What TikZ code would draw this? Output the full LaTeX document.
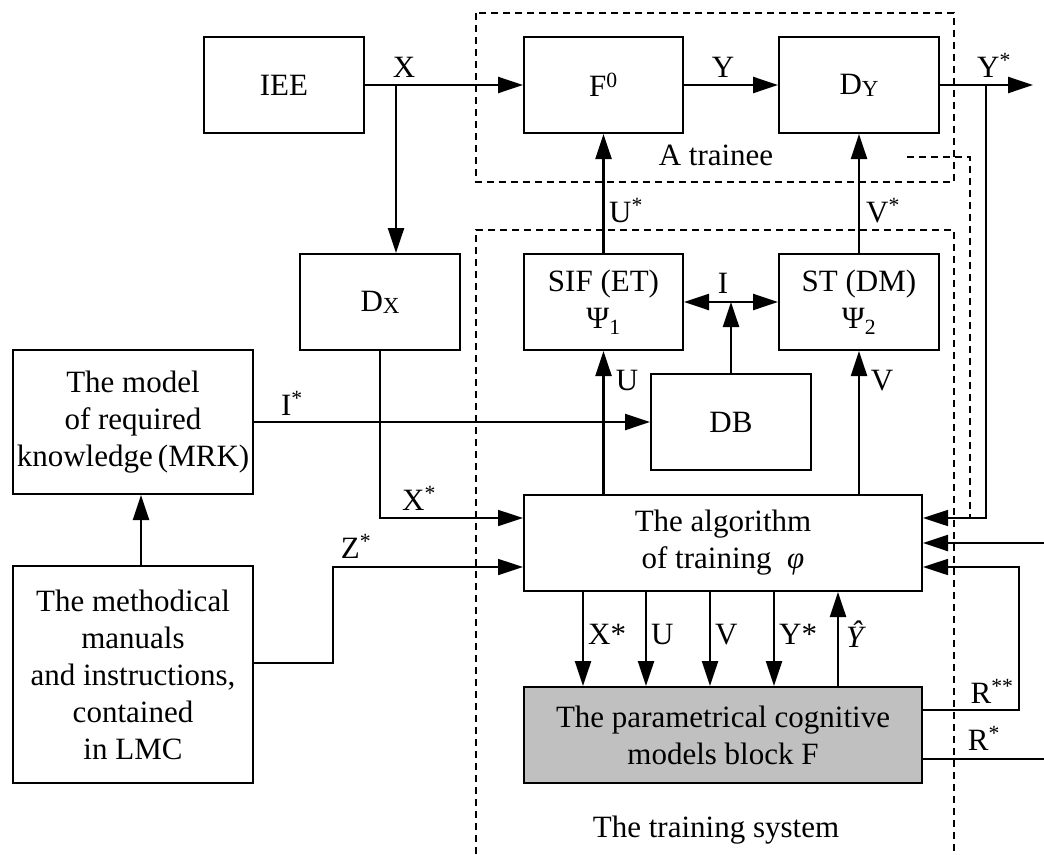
\documentclass[tikz,border=0pt]{standalone}
\usepackage{fontspec}
\setmainfont{Liberation Serif}
\usetikzlibrary{arrows.meta}
\definecolor{blockgray}{HTML}{C0C0C0}
\newcommand\lowidx[1]{\raisebox{-2pt}{\fontsize{23}{23}\selectfont #1}}

\begin{document}
\begin{tikzpicture}[x=1pt,y=-1pt,
  every node/.style={font=\fontsize{31}{37}\selectfont},
  >={Triangle[length=25pt,width=16pt]},
  box/.style={draw, line width=2pt, minimum width=#1, minimum height=96pt, inner sep=0pt, align=center},
  box/.default=160pt,
  arr/.style={line width=2.4pt, ->},
  thinarr/.style={line width=1.7pt, ->},
  thinline/.style={line width=1.7pt},
  frame/.style={line width=1.5pt, dash pattern=on 7pt off 5pt},
  lbl/.style={inner sep=0pt, anchor=base}]
\useasboundingbox (0,0) rectangle (1044,854);
\node[box] (iee) at (284,85) {IEE};
\node[box=159pt] (f0) at (603.5,85) {F\textsuperscript{0}};
\node[box] (dy) at (859,85) {D\lowidx{Y}};
\node[box] (dx) at (380,302) {D\lowidx{X}};
\node[box=159pt] (sif) at (603.5,302) {SIF (ET)\\Ψ\textsubscript{1}};
\node[box] (st) at (859,302) {ST (DM)\\Ψ\textsubscript{2}};
\node[box] (db) at (731,422) {DB};
\node[box=240pt, minimum height=144pt] (mrk) at (133,422) {The model\\of required\\knowledge\,(MRK)};
\node[box=240pt, minimum height=217pt] (mmi) at (133,674.5) {The methodical\\manuals\\and instructions,\\contained\\in LMC};
\node[box=398pt] (alg) at (723,543) {The algorithm\\of training \ {\itshape φ}};
\node[box=398pt, fill=blockgray] (fb) at (723,735) {The parametrical cognitive\\models block F};

\coordinate (xs) at (396,85);
\coordinate (ys) at (986,85);
\coordinate (yout) at (1033,85);
\coordinate (fin) at (1044,543);
\coordinate (rout) at (1044,759);

\draw[frame] (476,13) rectangle (954,182);
\draw[frame] (476,854) -- (476,230) -- (954,230) -- (954,854);
\draw[frame] (907,157) -| (970,518);

\draw[arr] (iee) -- (f0);
\draw[arr] (xs) -- (xs |- dx.north);
\draw[arr] (f0) -- (dy);
\draw[arr] (dy) -- (yout);
\draw[thinarr] (ys) |- ([yshift=25pt]alg.east);
\draw[arr] (sif) -- (f0);
\draw[arr] (st) -- (dy);
\draw[arr, <->] (sif) -- (st);
\draw[arr] (db) -- (db |- sif);
\draw[arr] (alg.north -| sif) -- (sif);
\draw[arr] (alg.north -| st) -- (st);
\draw[arr] (mrk) -- (db);
\draw[thinarr] (dx) |- ([yshift=25pt]alg.west);
\draw[arr] ([xshift=8pt]mmi.north) -- ([xshift=8pt]mmi.north |- mrk.south);
\draw[thinarr] ([yshift=11.5pt]mmi.east) -- ++(79,0) |- ([yshift=-24pt]alg.west);
\foreach \off/\lab in {60/X*,123/U,187/V,251/Y*}
  \draw[arr] ([xshift=\off pt]alg.south west) -- ([xshift=\off pt]fb.north west)
    node[pos=0.45, anchor=west, inner sep=0pt, xshift=4pt] {\lab};
\draw[arr] ([xshift=315pt]fb.north west) -- ([xshift=315pt]alg.south west)
  node[pos=0.55, anchor=west, inner sep=0pt, xshift=7pt] {\itshape Ŷ};
\draw[thinarr] ([yshift=25pt]fb.east) -- ++(96,0) |- ([yshift=-24pt]alg.east);
\draw[thinline] ([yshift=-24pt]fb.east) -- (rout);
\draw[arr] (fin) -- (alg);

\node[lbl] (lx) at (404,77) {X};
\node[lbl] (ly) at (723,77) {Y};
\node[lbl] (lys) at (994,77) {Y\textsuperscript{*}};
\node[lbl] (ltr) at (716,165) {A trainee};
\node[lbl] (lus) at (626,222) {U\textsuperscript{*}};
\node[lbl] (lvs) at (883,222) {V\textsuperscript{*}};
\node[lbl] (li) at (723,293) {I};
\node[lbl] (lu) at (627,390) {U};
\node[lbl] (lv) at (882,390) {V};
\node[lbl] (lis) at (292,415) {I\textsuperscript{*}};
\node[lbl] (lxs) at (419,510) {X\textsuperscript{*}};
\node[lbl] (lzs) at (356,558) {Z\textsuperscript{*}};
\node[lbl] (lrss) at (992,703) {R\textsuperscript{**}};
\node[lbl] (lrs) at (984,750) {R\textsuperscript{*}};
\node[lbl] (lts) at (716,837) {The training system};
\end{tikzpicture}
\end{document}
